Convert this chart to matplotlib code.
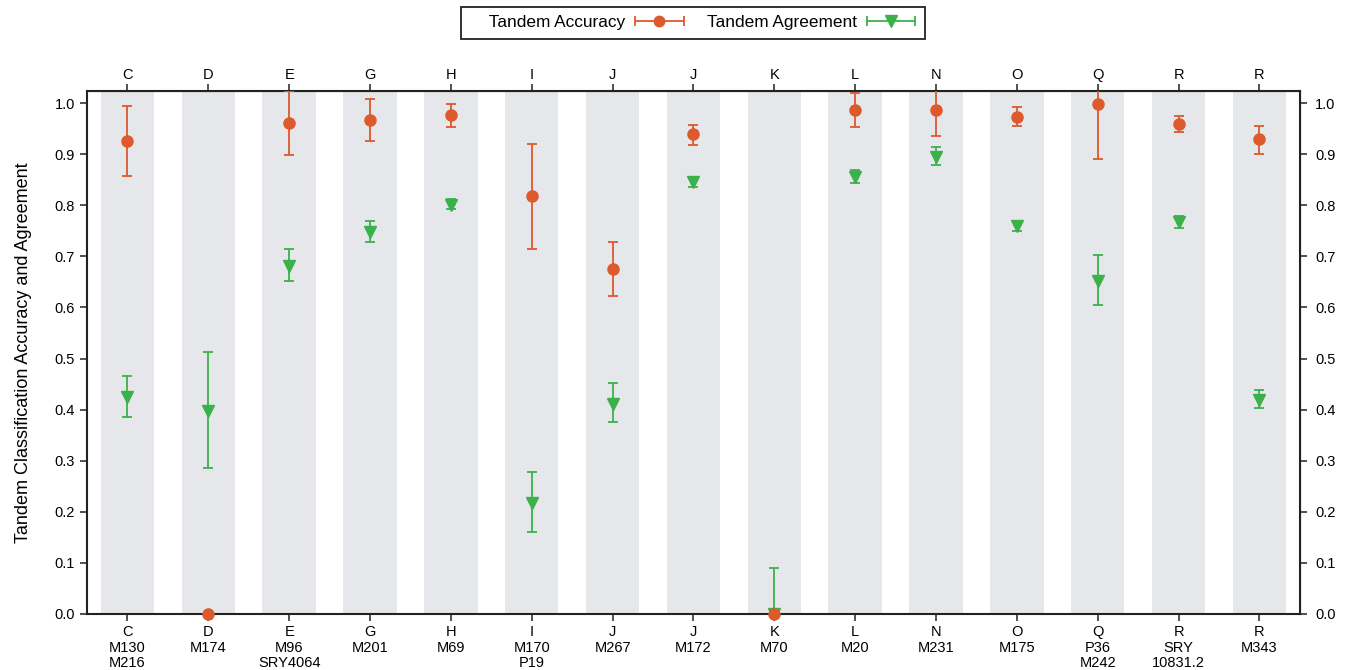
import matplotlib.pyplot as plt
from matplotlib.legend_handler import HandlerErrorbar
import numpy as np

plt.rcParams['font.family'] = ['Liberation Sans', 'DejaVu Sans']
plt.rcParams['font.size'] = 10.5

top_labels = ["C", "D", "E", "G", "H", "I", "J", "J", "K", "L", "N", "O", "Q", "R", "R"]
bottom_labels = ["C\nM130\nM216", "D\nM174", "E\nM96\nSRY4064", "G\nM201", "H\nM69",
                 "I\nM170\nP19", "J\nM267", "J\nM172", "K\nM70", "L\nM20", "N\nM231",
                 "O\nM175", "Q\nP36\nM242", "R\nSRY\n10831.2", "R\nM343"]

# accuracy: value, lower end, upper end
acc = [0.926, 0.0, 0.961, 0.967, 0.977, 0.818, 0.675, 0.939, 0.0, 0.986, 0.986, 0.973, 0.999, 0.960, 0.929]
acc_lo = [0.857, 0.0, 0.898, 0.926, 0.953, 0.714, 0.622, 0.919, 0.0, 0.954, 0.936, 0.956, 0.891, 0.944, 0.900]
acc_hi = [0.995, 0.0, 1.024, 1.008, 0.999, 0.920, 0.729, 0.958, 0.0, 1.019, 1.036, 0.992, 1.107, 0.975, 0.956]

# agreement: value, lower end, upper end
agr = [0.425, 0.397, 0.681, 0.747, 0.800, 0.217, 0.412, 0.845, 0.0, 0.856, 0.894, 0.759, 0.652, 0.767, 0.418]
agr_lo = [0.386, 0.286, 0.652, 0.729, 0.792, 0.160, 0.376, 0.836, 0.0, 0.843, 0.878, 0.750, 0.604, 0.756, 0.403]
agr_hi = [0.466, 0.512, 0.715, 0.770, 0.812, 0.278, 0.453, 0.854, 0.090, 0.870, 0.914, 0.769, 0.703, 0.779, 0.438]

orange = "#dc5a2c"
green = "#3bb14b"

x = np.arange(len(top_labels))

fig = plt.figure(figsize=(13.47, 6.70), dpi=100)
ax = fig.add_axes([0.0646, 0.0836, 0.9004, 0.7804])

for xi in x:
    ax.axvspan(xi - 0.33, xi + 0.33, color="#e6e7eb", lw=0, zorder=0)


def draw(vals, lo, hi, color, marker, ms):
    vals = np.array(vals)
    err = [vals - np.array(lo), np.array(hi) - vals]
    line, caps, bars = ax.errorbar(x, vals, yerr=err, fmt=marker, color=color, ms=ms,
                                   ecolor=color, elinewidth=1.3, capsize=3.5, capthick=1.3,
                                   zorder=3)
    line.set_clip_on(False)


draw(agr, agr_lo, agr_hi, green, "v", 8.5)
draw(acc, acc_lo, acc_hi, orange, "o", 8)

# proxies for the legend (horizontal bars like the original)
h1 = ax.errorbar([np.nan], [np.nan], xerr=[1], fmt="o", color=orange, ms=7.5,
                 elinewidth=1.3, capsize=3.5, capthick=1.3)
h2 = ax.errorbar([np.nan], [np.nan], xerr=[1], fmt="v", color=green, ms=8,
                 elinewidth=1.3, capsize=3.5, capthick=1.3)

ax.set_xlim(-0.5, len(x) - 0.5)
ax.set_ylim(0, 1.0235)
ax.set_yticks(np.arange(0, 1.01, 0.1))
ax.set_yticklabels(["%.1f" % v for v in np.arange(0, 1.01, 0.1)])
ax.set_xticks(x)
ax.set_xticklabels(bottom_labels, linespacing=1.15)
ax.set_ylabel("Tandem Classification Accuracy and Agreement", fontsize=13, labelpad=16)

ax.tick_params(direction="out", length=5, width=1.2, color="#333333")
ax.tick_params(axis="x", pad=3)
for s in ax.spines.values():
    s.set_linewidth(1.5)
    s.set_color("#222222")

top = ax.secondary_xaxis("top")
top.set_xticks(x)
top.set_xticklabels(top_labels)
top.tick_params(direction="out", length=5, width=1.2, color="#333333", pad=1.5)

right = ax.secondary_yaxis("right")
right.set_yticks(np.arange(0, 1.01, 0.1))
right.set_yticklabels(["%.1f" % v for v in np.arange(0, 1.01, 0.1)])
right.tick_params(direction="out", length=5, width=1.2, color="#333333", pad=6)

hmap = {h1: HandlerErrorbar(xerr_size=1.4), h2: HandlerErrorbar(xerr_size=1.4)}
leg = fig.legend([h1, h2], ["    Tandem Accuracy", "Tandem Agreement"], loc="center",
                 bbox_to_anchor=(0.5145, 0.966), ncol=2, markerfirst=False,
                 fancybox=False, edgecolor="#222222", framealpha=1, handlelength=2.9,
                 fontsize=12.4, columnspacing=1.3, borderpad=0.5, handletextpad=0.55,
                 handler_map=hmap)
leg.get_frame().set_linewidth(1.3)

fig.savefig("out.png", dpi=100)
